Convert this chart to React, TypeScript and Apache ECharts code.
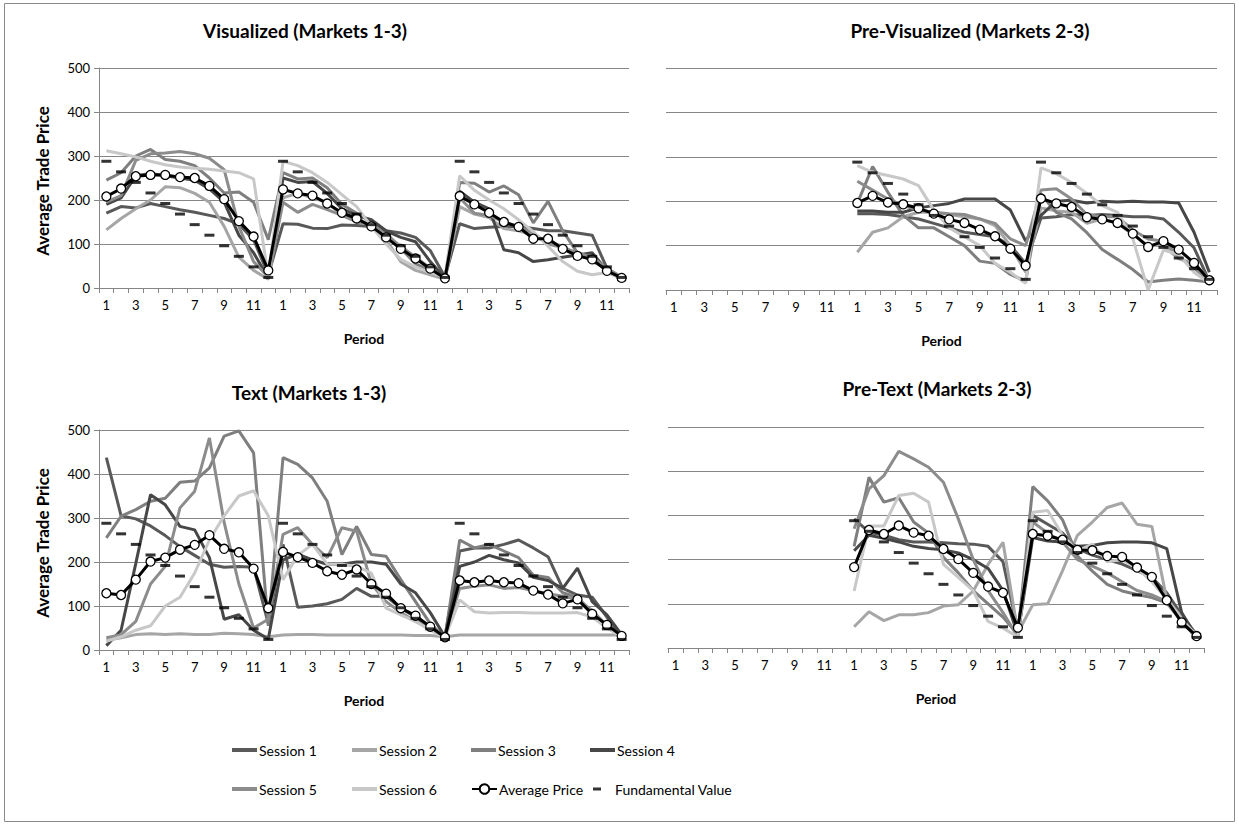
import React, { useEffect, useRef } from "react";
import * as echarts from "echarts";

// ---------- categories / tick labels ----------
const markets = ["M1", "M2", "M3"];
const periodLabels = ["1", "2", "3", "4", "5", "6", "7", "8", "9", "10", "11", "12"];
const yTicks = [0, 100, 200, 300, 400, 500];

const sessionNames = ["Session 1", "Session 2", "Session 3", "Session 4", "Session 5", "Session 6"];
const sessionColors = ["#595959", "#a6a6a6", "#7f7f7f", "#474747", "#8c8c8c", "#c8c8c8"];

const N = null;
const empty12 = [N, N, N, N, N, N, N, N, N, N, N, N];

// ---------- Fundamental value ----------
const fvMarket = [288, 264, 240, 216, 192, 168, 144, 120, 96, 72, 48, 24];

// ---------- Visualized (Markets 1-3) ----------
const visS1 = [170, 185, 182, 192, 185, 178, 172, 165, 158, 145, 110, 30, 146, 145, 136, 135, 143, 142, 140, 130, 125, 115, 85, 25, 146, 135, 138, 140, 140, 135, 130, 130, 125, 120, 45, 22];
const visS2 = [132, 158, 180, 200, 230, 228, 215, 195, 140, 70, 40, 20, 205, 215, 205, 195, 165, 160, 140, 110, 60, 40, 30, 20, 185, 168, 160, 135, 130, 120, 105, 95, 75, 65, 40, 20];
const visS3 = [245, 262, 300, 315, 292, 288, 278, 250, 216, 218, 195, 110, 262, 248, 250, 228, 190, 170, 150, 125, 90, 55, 40, 20, 240, 238, 218, 232, 212, 148, 197, 130, 80, 60, 45, 22];
const visS4 = [190, 205, 255, 260, 255, 250, 245, 225, 195, 120, 80, 22, 250, 240, 242, 215, 180, 165, 155, 130, 115, 105, 60, 22, 220, 195, 180, 87, 80, 60, 64, 70, 75, 80, 40, 25];
const visS5 = [195, 210, 290, 305, 307, 310, 305, 295, 269, 140, 60, 25, 195, 172, 190, 178, 165, 150, 145, 120, 95, 70, 45, 20, 205, 170, 165, 150, 140, 125, 100, 92, 80, 70, 45, 25];
const visS6 = [312, 305, 298, 288, 280, 275, 272, 270, 266, 262, 248, 25, 288, 278, 262, 240, 212, 185, 140, 100, 65, 48, 35, 25, 255, 222, 200, 180, 155, 128, 95, 60, 38, 30, 35, 22];
const visAvg = [208, 226, 254, 257, 257, 252, 250, 232, 202, 152, 117, 40, 224, 215, 210, 192, 171, 158, 140, 115, 89, 67, 44, 22, 209, 190, 171, 150, 139, 112, 112, 89, 73, 65, 39, 23];

// ---------- Pre-Visualized (Markets 2-3) ----------
const pvS1 = [...empty12, 172, 172, 170, 165, 160, 150, 140, 130, 125, 120, 100, 60, 162, 165, 170, 168, 170, 168, 165, 165, 160, 130, 95, 20];
const pvS2 = [...empty12, 85, 130, 140, 165, 175, 175, 170, 165, 160, 145, 100, 40, 185, 178, 175, 150, 160, 150, 125, 100, 100, 70, 60, 25];
const pvS3 = [...empty12, 195, 278, 220, 168, 140, 140, 120, 100, 65, 60, 35, 20, 215, 175, 160, 129, 91, 69, 46, 18, 22, 25, 22, 18];
const pvS4 = [...empty12, 178, 178, 175, 175, 185, 190, 195, 205, 205, 205, 180, 110, 168, 200, 202, 196, 200, 198, 200, 198, 198, 196, 130, 40];
const pvS5 = [...empty12, 245, 225, 205, 190, 180, 175, 172, 170, 160, 150, 115, 100, 225, 228, 205, 170, 165, 165, 135, 115, 110, 75, 50, 20];
const pvS6 = [...empty12, 280, 265, 258, 250, 235, 180, 140, 120, 100, 60, 40, 15, 275, 262, 242, 218, 190, 175, 115, 0, 90, 80, 40, 15];
const pvAvg = [...empty12, 196, 212, 197, 193, 184, 172, 159, 151, 136, 121, 93, 55, 206, 195, 187, 164, 159, 151, 127, 97, 110, 91, 61, 22];

// ---------- Text (Markets 1-3) ----------
const tS1 = [437, 305, 298, 282, 260, 235, 215, 195, 188, 190, 188, 60, 240, 97, 100, 105, 115, 140, 122, 122, 95, 75, 50, 30, 225, 232, 232, 240, 250, 232, 212, 140, 125, 120, 75, 30];
const tS2 = [22, 28, 35, 37, 35, 37, 35, 35, 38, 37, 35, 30, 34, 35, 35, 34, 34, 34, 34, 34, 34, 33, 33, 30, 34, 34, 34, 34, 34, 34, 34, 34, 34, 34, 34, 34];
const tS3 = [255, 304, 319, 338, 345, 381, 384, 414, 486, 498, 448, 55, 437, 422, 391, 338, 217, 281, 217, 213, 160, 110, 60, 28, 250, 232, 240, 225, 210, 170, 165, 130, 120, 85, 55, 30];
const tS4 = [10, 45, 197, 353, 330, 281, 273, 210, 70, 80, 45, 25, 205, 218, 205, 195, 195, 200, 200, 195, 150, 130, 85, 30, 190, 200, 215, 205, 198, 165, 158, 140, 186, 110, 80, 35];
const tS5 = [28, 35, 65, 150, 190, 323, 361, 482, 290, 150, 50, 70, 263, 278, 240, 210, 278, 270, 150, 110, 85, 65, 50, 30, 140, 145, 148, 140, 142, 135, 128, 122, 115, 90, 55, 32];
const tS6 = [20, 30, 45, 55, 100, 120, 175, 250, 305, 350, 362, 305, 160, 215, 240, 195, 195, 190, 175, 95, 80, 65, 45, 28, 114, 87, 84, 85, 85, 84, 84, 84, 85, 75, 50, 30];
const tAvg = [129, 125, 160, 201, 210, 228, 239, 261, 230, 222, 185, 95, 223, 211, 198, 179, 171, 183, 150, 128, 95, 78, 53, 29, 158, 154, 158, 154, 152, 135, 126, 106, 115, 82, 57, 32];

// ---------- Pre-Text (Markets 2-3) ----------
const ptS1 = [...empty12, 292, 262, 255, 245, 240, 240, 238, 236, 235, 230, 195, 40, 300, 280, 260, 225, 210, 200, 190, 175, 160, 125, 75, 30];
const ptS2 = [...empty12, 48, 82, 62, 75, 75, 80, 95, 98, 129, 189, 239, 35, 98, 100, 175, 255, 285, 318, 328, 280, 275, 110, 70, 30];
const ptS3 = [...empty12, 230, 386, 330, 340, 285, 260, 205, 170, 130, 100, 70, 30, 365, 333, 290, 208, 174, 144, 129, 121, 114, 102, 60, 23];
const ptS4 = [...empty12, 220, 255, 248, 240, 230, 225, 222, 215, 200, 180, 130, 30, 250, 242, 240, 230, 232, 238, 240, 240, 238, 225, 80, 25];
const ptS5 = [...empty12, 270, 360, 390, 445, 428, 409, 375, 292, 200, 130, 80, 25, 285, 260, 240, 200, 185, 170, 150, 130, 120, 105, 60, 25];
const ptS6 = [...empty12, 129, 276, 276, 345, 350, 330, 189, 160, 130, 60, 45, 25, 307, 311, 255, 220, 235, 195, 200, 180, 150, 110, 65, 28];
const ptAvg = [...empty12, 183, 267, 258, 277, 261, 254, 224, 201, 170, 139, 125, 46, 258, 254, 245, 222, 221, 208, 206, 182, 161, 108, 58, 27];

const categories = markets.flatMap((m) => periodLabels.map((p) => `${m}|${p}`));
const fvFull = [...fvMarket, ...fvMarket, ...fvMarket];
const fvPre = [...empty12, ...fvMarket, ...fvMarket];

const FONT = "Lato, 'Open Sans', 'DejaVu Sans', sans-serif";
const AXIS_GREY = "#868686";

const panels = [
  {
    title: "Visualized (Markets 1-3)",
    sessions: [visS1, visS2, visS3, visS4, visS5, visS6],
    avg: visAvg,
    fv: fvFull,
    grid: { left: 99, top: 68, width: 530, height: 220 },
    showY: true,
    titlePos: [305, 30],
  },
  {
    title: "Pre-Visualized (Markets 2-3)",
    sessions: [pvS1, pvS2, pvS3, pvS4, pvS5, pvS6],
    avg: pvAvg,
    fv: fvPre,
    grid: { left: 666, top: 68, width: 551, height: 222 },
    showY: false,
    titlePos: [970, 30],
  },
  {
    title: "Text (Markets 1-3)",
    sessions: [tS1, tS2, tS3, tS4, tS5, tS6],
    avg: tAvg,
    fv: fvFull,
    grid: { left: 99, top: 430, width: 530, height: 220 },
    showY: true,
    titlePos: [309, 392],
  },
  {
    title: "Pre-Text (Markets 2-3)",
    sessions: [ptS1, ptS2, ptS3, ptS4, ptS5, ptS6],
    avg: ptAvg,
    fv: fvPre,
    grid: { left: 668, top: 427, width: 536, height: 221 },
    showY: false,
    titlePos: [937, 388],
  },
];

function buildOption() {
  const grid: any[] = [];
  const xAxis: any[] = [];
  const yAxis: any[] = [];
  const series: any[] = [];
  const graphic: any[] = [];

  graphic.push({
    type: "rect",
    shape: { x: 4.5, y: 3.5, width: 1230, height: 818 },
    style: { fill: "none", stroke: "#8a8a8a", lineWidth: 1 },
    silent: true,
  });

  panels.forEach((p, g) => {
    grid.push({ ...p.grid, containLabel: false });
    xAxis.push({
      type: "category",
      gridIndex: g,
      data: categories,
      boundaryGap: true,
      axisLine: { show: true, lineStyle: { color: AXIS_GREY, width: 1 } },
      axisTick: { show: true, interval: 0, length: 5, lineStyle: { color: AXIS_GREY } },
      axisLabel: {
        interval: 1,
        formatter: (v: string) => v.split("|")[1],
        fontSize: 13,
        fontFamily: FONT,
        color: "#000",
        margin: 10,
      },
      splitLine: { show: false },
    });
    yAxis.push({
      type: "value",
      gridIndex: g,
      min: yTicks[0],
      max: yTicks[yTicks.length - 1],
      interval: 100,
      axisLine: { show: p.showY, lineStyle: { color: AXIS_GREY, width: 1 } },
      axisTick: { show: p.showY, length: 5, lineStyle: { color: AXIS_GREY } },
      axisLabel: {
        show: p.showY,
        fontSize: 13,
        fontFamily: FONT,
        color: "#000",
        margin: 9,
      },
      splitLine: { show: true, lineStyle: { color: AXIS_GREY, width: 1 } },
    });

    p.sessions.forEach((data, k) => {
      series.push({
        type: "line",
        name: sessionNames[k],
        xAxisIndex: g,
        yAxisIndex: g,
        data,
        symbol: "none",
        lineStyle: { width: 3, color: sessionColors[k] },
        itemStyle: { color: sessionColors[k] },
        z: 2,
        silent: true,
      });
    });
    series.push({
      type: "line",
      name: "Average Price",
      xAxisIndex: g,
      yAxisIndex: g,
      data: p.avg,
      symbol: "circle",
      symbolSize: 9,
      showAllSymbol: true,
      lineStyle: { width: 3, color: "#000" },
      itemStyle: { color: "#fff", borderColor: "#000", borderWidth: 1.3 },
      z: 4,
      silent: true,
    });
    series.push({
      type: "scatter",
      name: "Fundamental Value",
      xAxisIndex: g,
      yAxisIndex: g,
      data: p.fv,
      symbol: "rect",
      symbolSize: [10, 3],
      itemStyle: { color: "#000" },
      z: 5,
      silent: true,
    });

    graphic.push({
      type: "text",
      x: p.titlePos[0],
      y: p.titlePos[1],
      style: {
        text: p.title,
        fontSize: 19,
        fontWeight: "bold",
        fontFamily: FONT,
        fill: "#000",
        textAlign: "center",
        textVerticalAlign: "middle",
      },
      silent: true,
    });
    graphic.push({
      type: "text",
      x: p.grid.left + p.grid.width / 2,
      y: p.grid.top + p.grid.height + 50,
      style: {
        text: "Period",
        fontSize: 14,
        fontWeight: "bold",
        fontFamily: FONT,
        fill: "#000",
        textAlign: "center",
        textVerticalAlign: "middle",
      },
      silent: true,
    });
    if (p.showY) {
      graphic.push({
        type: "text",
        x: 42,
        y: p.grid.top + p.grid.height / 2 + 3,
        rotation: Math.PI / 2,
        style: {
          text: "Average Trade Price",
          fontSize: 17,
          fontWeight: "bold",
          fontFamily: FONT,
          fill: "#000",
          textAlign: "center",
          textVerticalAlign: "middle",
        },
        silent: true,
      });
    }
  });

  const legendItems = [
    { name: "Session 1", left: 232, top: 750 },
    { name: "Session 2", left: 352, top: 750 },
    { name: "Session 3", left: 471, top: 750 },
    { name: "Session 4", left: 590, top: 750 },
    { name: "Session 5", left: 232, top: 789 },
    { name: "Session 6", left: 352, top: 789 },
    { name: "Average Price", left: 471, top: 789 },
    { name: "Fundamental Value", left: 593, top: 789 },
  ];
  const legend = legendItems.map((it) => {
    const isFV = it.name === "Fundamental Value";
    const isAvg = it.name === "Average Price";
    const item = isFV || !isAvg ? { name: it.name, icon: "rect" } : { name: it.name };
    const h = isFV ? 3 : isAvg ? 12 : 4;
    return {
      data: [item],
      left: it.left,
      top: it.top - 9,
      padding: 0,
      itemWidth: isFV ? 8 : 25,
      itemHeight: h,
      itemGap: 0,
      selectedMode: false,
      textStyle: {
        fontSize: 14,
        fontFamily: FONT,
        color: "#000",
        lineHeight: 18,
        padding: isFV ? [0, 0, 0, 9] : [0, 0, 0, -3],
      },
    };
  });

  return {
    animation: false,
    backgroundColor: "#fff",
    grid,
    xAxis,
    yAxis,
    series,
    legend,
    graphic,
  };
}

export default function App() {
  const ref = useRef<HTMLDivElement>(null);
  useEffect(() => {
    if (!ref.current) return;
    const chart = echarts.init(ref.current, undefined, { renderer: "svg" });
    chart.setOption(buildOption() as any);
    return () => chart.dispose();
  }, []);
  return (
    <div
      ref={ref}
      style={{ position: "fixed", left: 0, top: 0, width: 1239, height: 827, background: "#fff" }}
    />
  );
}
